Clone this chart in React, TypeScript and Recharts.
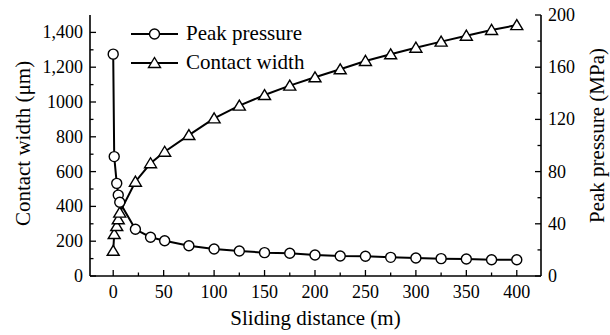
import React from "react";
import { LineChart, Line, XAxis, YAxis, Legend } from "recharts";

// sliding distance (m)
const distance = [0, 1, 3.5, 5, 6.5, 22, 37, 51, 75, 100, 125, 150, 175, 200, 225, 250, 275, 300, 325, 350, 375, 400];
// peak pressure (MPa), right axis
const peakPressure = [170, 91.5, 71, 62, 56.5, 35.8, 29.7, 27, 23.2, 20.7, 19.2, 17.9, 17.4, 16.1, 15.3, 15.1, 14.3, 13.8, 13.3, 13.0, 12.5, 12.5];
// contact width (um), left axis
const contactWidth = [145, 241, 287, 326, 364, 542, 648, 714, 810, 906, 979, 1040, 1094, 1142, 1188, 1236, 1274, 1312, 1347, 1381, 1414, 1442];

const xTicks = [0, 25, 50, 75, 100, 125, 150, 175, 200, 225, 250, 275, 300, 325, 350, 375, 400];
const leftTicks = [0, 100, 200, 300, 400, 500, 600, 700, 800, 900, 1000, 1100, 1200, 1300, 1400];
const leftLabels: Record<number, string> = {
  0: "0", 200: "200", 400: "400", 600: "600", 800: "800", 1000: "1000", 1200: "1,200", 1400: "1,400",
};
const rightTicks = [0, 20, 40, 60, 80, 100, 120, 140, 160, 180, 200];

const data = distance.map((d, i) => ({ d, pressure: peakPressure[i], width: contactWidth[i] }));

const FONT = "Liberation Serif, DejaVu Serif, serif";
const FS = 18;
const TITLE = 21;

const XTick = (props: any) => {
  const { x, y, payload } = props;
  const v = payload.value;
  const major = v % 50 === 0;
  return (
    <g>
      <line x1={x} x2={x} y1={y} y2={y - (major ? 6 : 3.5)} stroke="#000" strokeWidth={1.3} />
      {major && (
        <text x={x} y={y + 16} textAnchor="middle" dominantBaseline="central" fontFamily={FONT} fontSize={FS} fill="#000">
          {v}
        </text>
      )}
    </g>
  );
};

const LeftTick = (props: any) => {
  const { x, y, payload } = props;
  const v = payload.value;
  const label = leftLabels[v];
  return (
    <g>
      <line x1={x} x2={x + (label ? 6 : 3.5)} y1={y} y2={y} stroke="#000" strokeWidth={1.3} />
      {label && (
        <text x={x - 7} y={y} textAnchor="end" dominantBaseline="central" fontFamily={FONT} fontSize={FS} fill="#000">
          {label}
        </text>
      )}
    </g>
  );
};

const RightTick = (props: any) => {
  const { x, y, payload } = props;
  const v = payload.value;
  const major = v % 40 === 0;
  return (
    <g>
      <line x1={x} x2={x - (major ? 6 : 3.5)} y1={y} y2={y} stroke="#000" strokeWidth={1.3} />
      {major && (
        <text x={x + 7} y={y} textAnchor="start" dominantBaseline="central" fontFamily={FONT} fontSize={FS} fill="#000">
          {v}
        </text>
      )}
    </g>
  );
};

const CircleDot = (props: any) => {
  const { cx, cy, index } = props;
  if (cx == null || cy == null) return <g key={index} />;
  return <circle key={index} cx={cx} cy={cy} r={5} fill="#fff" stroke="#000" strokeWidth={1.4} />;
};

const TriangleDot = (props: any) => {
  const { cx, cy, index } = props;
  if (cx == null || cy == null) return <g key={index} />;
  const pts = `${cx},${cy - 5.5} ${cx - 6},${cy + 4.5} ${cx + 6},${cy + 4.5}`;
  return <polygon key={index} points={pts} fill="#fff" stroke="#000" strokeWidth={1.4} strokeLinejoin="miter" />;
};

const legendItems = [
  { name: "Peak pressure", shape: "circle" },
  { name: "Contact width", shape: "triangle" },
];

const LegendBox = () => (
  <div style={{ fontFamily: FONT, fontSize: TITLE, color: "#000" }}>
    {legendItems.map((it) => (
      <div key={it.name} style={{ display: "flex", alignItems: "center", height: 29 }}>
        <svg width={52} height={16} style={{ marginRight: 3 }}>
          <line x1={0} x2={47} y1={8} y2={8} stroke="#000" strokeWidth={2} />
          {it.shape === "circle" ? (
            <circle cx={23.5} cy={8} r={5} fill="#fff" stroke="#000" strokeWidth={1.4} />
          ) : (
            <polygon points="23.5,2.5 17.5,12.5 29.5,12.5" fill="#fff" stroke="#000" strokeWidth={1.4} />
          )}
        </svg>
        <span style={{ lineHeight: "29px" }}>{it.name}</span>
      </div>
    ))}
  </div>
);

export default function App() {
  return (
    <div style={{ position: "absolute", left: 0, top: 0, width: 610, height: 335, background: "#fff" }}>
      <LineChart width={610} height={335} data={data} margin={{ top: 15, right: 14, bottom: 14, left: 20 }}>
        <XAxis
          xAxisId="top"
          orientation="top"
          type="number"
          dataKey="d"
          domain={[-23, 424]}
          height={0}
          tick={false}
          tickLine={false}
          axisLine={{ stroke: "#000", strokeWidth: 1.6 }}
        />
        <XAxis
          type="number"
          dataKey="d"
          domain={[-23, 424]}
          ticks={xTicks}
          interval={0}
          tickSize={0}
          tickMargin={0}
          tickLine={false}
          tick={<XTick />}
          height={45}
          axisLine={{ stroke: "#000", strokeWidth: 1.6 }}
          label={{ value: "Sliding distance (m)", position: "insideBottom", offset: -4, fontFamily: FONT, fontSize: TITLE, fill: "#000" }}
        />
        <YAxis
          yAxisId="left"
          domain={[0, 1500]}
          ticks={leftTicks}
          interval={0}
          tickSize={0}
          tickMargin={0}
          tickLine={false}
          tick={<LeftTick />}
          width={70}
          axisLine={{ stroke: "#000", strokeWidth: 1.6 }}
          label={{ value: "Contact width (\u03bcm)", angle: -90, position: "insideLeft", offset: 3, dy: -2, style: { textAnchor: "middle" }, fontFamily: FONT, fontSize: TITLE, fill: "#000" }}
        />
        <YAxis
          yAxisId="right"
          orientation="right"
          domain={[0, 200]}
          ticks={rightTicks}
          interval={0}
          tickSize={0}
          tickMargin={0}
          tickLine={false}
          tick={<RightTick />}
          width={55}
          axisLine={{ stroke: "#000", strokeWidth: 1.6 }}
          label={{ value: "Peak pressure (MPa)", angle: -90, position: "insideRight", offset: 0, dx: 1, dy: -10, style: { textAnchor: "middle" }, fontFamily: FONT, fontSize: TITLE, fill: "#000" }}
        />
        <Legend
          layout="horizontal"
          verticalAlign="middle"
          align="center"
          content={<LegendBox />}
          wrapperStyle={{ top: 19, left: 131, width: "auto", height: "auto" }}
        />
        <Line
          yAxisId="left"
          dataKey="width"
          name="Contact width"
          stroke="#000"
          strokeWidth={2}
          dot={<TriangleDot />}
          activeDot={false}
          isAnimationActive={false}
        />
        <Line
          yAxisId="right"
          dataKey="pressure"
          name="Peak pressure"
          stroke="#000"
          strokeWidth={2}
          dot={<CircleDot />}
          activeDot={false}
          isAnimationActive={false}
        />
      </LineChart>
    </div>
  );
}
